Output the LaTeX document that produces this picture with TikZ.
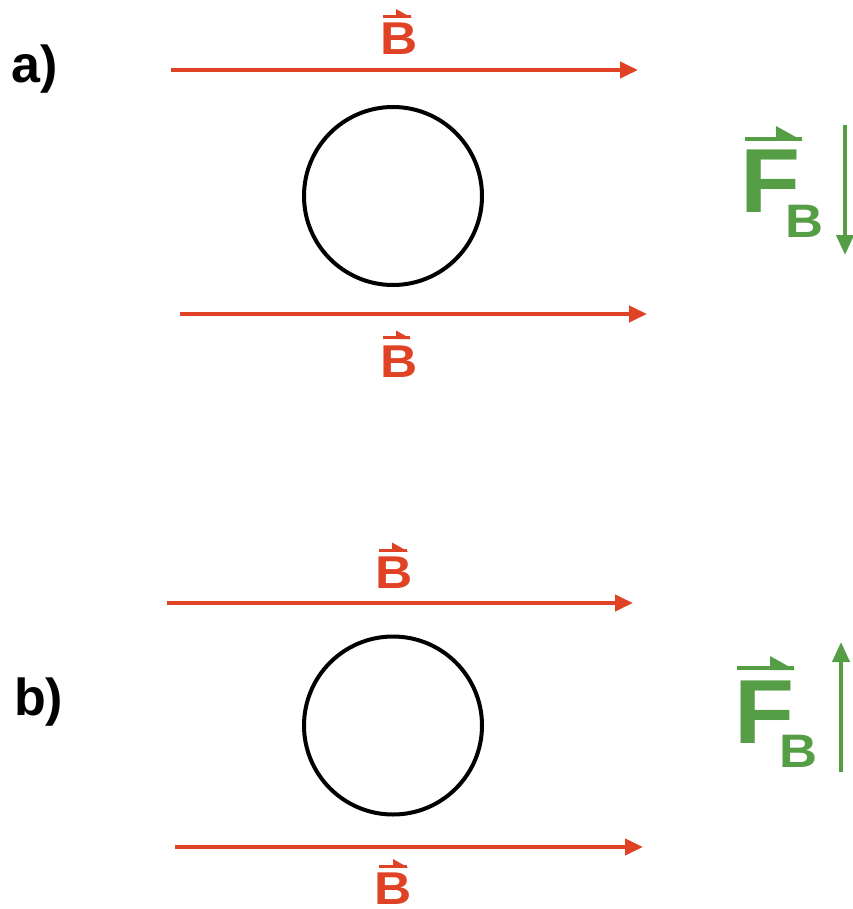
\documentclass[tikz,border=0pt]{standalone}
\usepackage{fontspec}
\setmainfont{Liberation Sans}
\usetikzlibrary{arrows.meta}
\definecolor{fieldred}{RGB}{224,66,38}
\definecolor{forcegreen}{RGB}{85,158,69}
% colour, x left, x right, y, barb length, line width
\newcommand{\vecbar}[6]{%
  \draw[#1, line width=#6pt] (#2,#4) -- (#3,#4);
  \fill[#1] ({#3-#5},{#4-0.5*#5}) -- ({#3+1},{#4+0.5*#6}) -- ({#3-#5},{#4+0.5*#6}) -- cycle;}
\begin{document}
\begin{tikzpicture}[x=1pt,y=-1pt,
  fieldarrow/.style={draw=fieldred, line width=4pt, -{Triangle[length=18pt,width=16pt]}},
  forcearrow/.style={draw=forcegreen, line width=4pt, -{Triangle[length=20pt,width=17pt]}},
  ring/.style={circle, draw=black, line width=4pt, minimum size=178pt, inner sep=0pt},
  blabel/.style={text=fieldred, font=\fontsize{46}{46}\selectfont\bfseries, inner sep=0pt, anchor=base},
  flabel/.style={text=forcegreen, font=\fontsize{91}{91}\selectfont\bfseries, inner sep=0pt, anchor=base},
  fsub/.style={text=forcegreen, font=\fontsize{47}{47}\selectfont\bfseries, inner sep=0pt, anchor=base},
  partlabel/.style={text=black, font=\fontsize{52}{52}\selectfont\bfseries, inner sep=0pt, anchor=base west}]
\useasboundingbox (0,0) rectangle (852,909);

% ---------- part a ----------
\node[partlabel] (la) at (11,83) {a)};
\coordinate (a1s) at (171,70);
\coordinate (a1e) at (638,70);
\draw[fieldarrow] (a1s) -- (a1e);
\node[blabel] (Ba1) at (399,55) {\scalebox{1.12}[1]{B}};
\vecbar{fieldred}{383}{411}{16.5}{15}{3}
\node[ring] (ca) at (393,196) {};
\coordinate (a2s) at (180,314);
\coordinate (a2e) at (647,314);
\draw[fieldarrow] (a2s) -- (a2e);
\node[blabel] (Ba2) at (399,377) {\scalebox{1.12}[1]{B}};
\vecbar{fieldred}{383}{410}{337.5}{14}{3}
\node[flabel] (Fa) at (771,213) {\scalebox{1.08}[1]{F}};
\node[fsub] (FBa) at (804,237) {\scalebox{1.12}[1]{B}};
\vecbar{forcegreen}{745}{802}{139}{26}{4}
\coordinate (fas) at (845,125);
\coordinate (fae) at (845,255);
\draw[forcearrow] (fas) -- (fae);

% ---------- part b ----------
\node[partlabel] (lb) at (14,715) {b)};
\coordinate (b1s) at (167,603);
\coordinate (b1e) at (633,603);
\draw[fieldarrow] (b1s) -- (b1e);
\node[blabel] (Bb1) at (394.5,588) {\scalebox{1.12}[1]{B}};
\vecbar{fieldred}{379}{407}{550}{15}{3}
\node[ring] (cb) at (393,725.5) {};
\coordinate (b2s) at (175,847);
\coordinate (b2e) at (643,847);
\draw[fieldarrow] (b2s) -- (b2e);
\node[blabel] (Bb2) at (393.5,904) {\scalebox{1.12}[1]{B}};
\vecbar{fieldred}{379}{407}{866}{14}{3}
\node[flabel] (Fb) at (765,743) {\scalebox{1.08}[1]{F}};
\node[fsub] (FBb) at (798,767) {\scalebox{1.12}[1]{B}};
\vecbar{forcegreen}{737}{794}{668}{24}{4}
\coordinate (fbs) at (841,772);
\coordinate (fbe) at (841,642);
\draw[forcearrow] (fbs) -- (fbe);
\end{tikzpicture}
\end{document}
